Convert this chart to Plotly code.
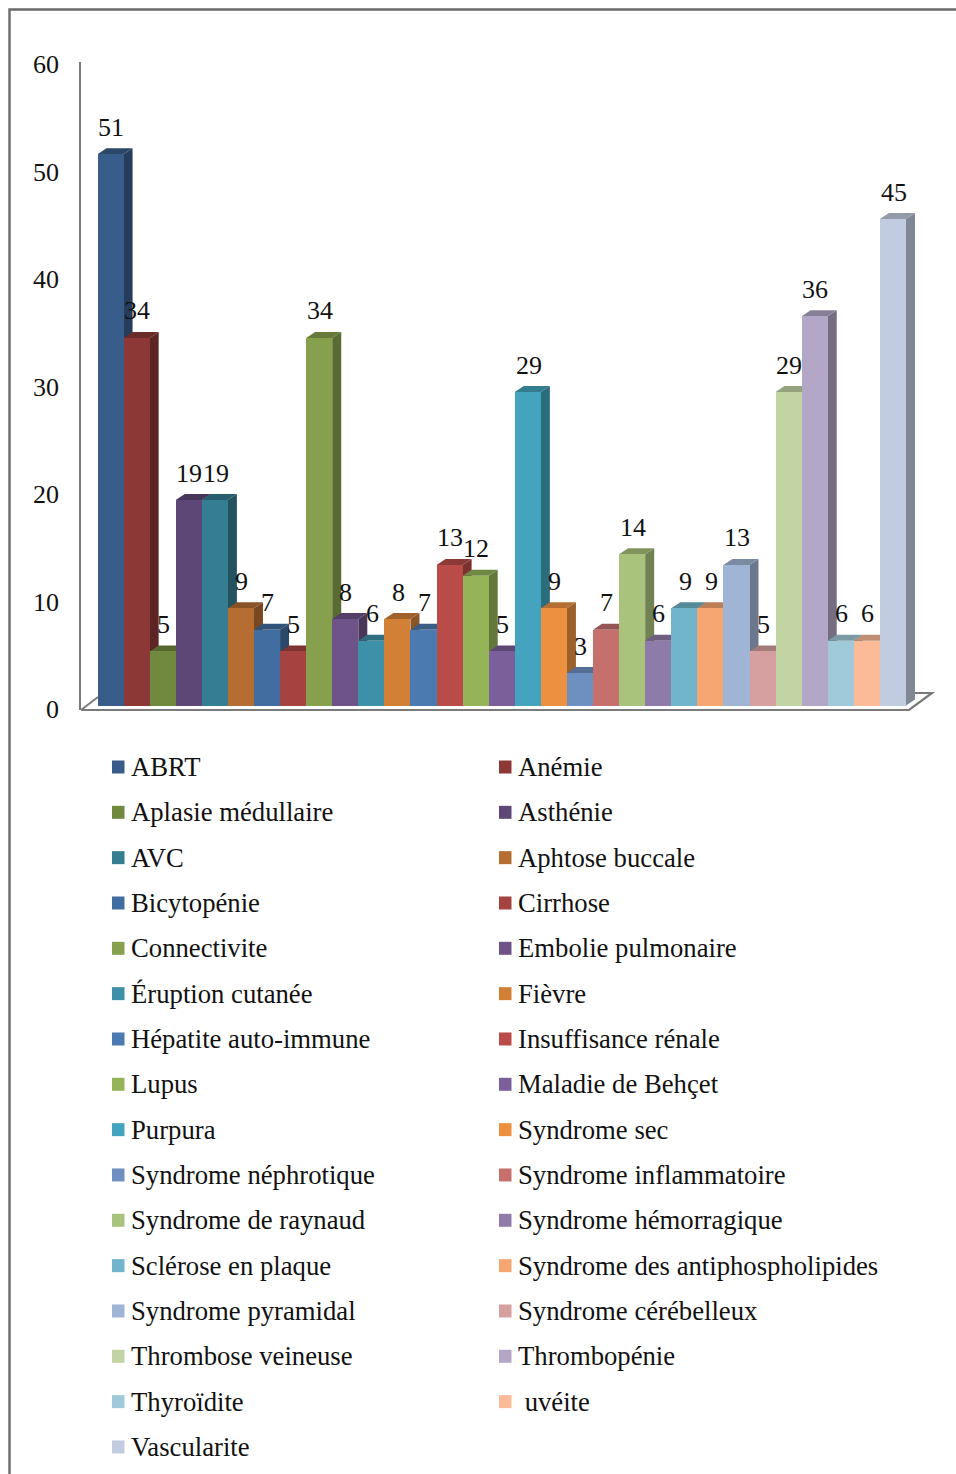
import plotly.graph_objects as go

# Diagnoses and patient counts, in drawing order
categories = [
    "ABRT", "Anémie", "Aplasie médullaire", "Asthénie", "AVC", "Aphtose buccale",
    "Bicytopénie", "Cirrhose", "Connectivite", "Embolie pulmonaire", "Éruption cutanée",
    "Fièvre", "Hépatite auto-immune", "Insuffisance rénale", "Lupus", "Maladie de Behçet",
    "Purpura", "Syndrome sec", "Syndrome néphrotique", "Syndrome inflammatoire",
    "Syndrome de raynaud", "Syndrome hémorragique", "Sclérose en plaque",
    "Syndrome des antiphospholipides", "Syndrome pyramidal", "Syndrome cérébelleux",
    "Thrombose veineuse", "Thrombopénie", "Thyroïdite", "\u00a0uvéite", "Vascularite",
]
values = [51, 34, 5, 19, 19, 9, 7, 5, 34, 8, 6, 8, 7, 13, 12, 5, 29, 9, 3, 7, 14, 6, 9, 9,
          13, 5, 29, 36, 6, 6, 45]
colors = [
    "#385D8A", "#8C3836", "#71893F", "#5C4776", "#357D91", "#B66D31", "#426DA1", "#A44340",
    "#87A04D", "#6E5389", "#3E90A9", "#D38037", "#4A7AB0", "#B94B49", "#94B457", "#7A5F9A",
    "#44A3BE", "#ED9140", "#6E90C0", "#C6706E", "#AAC37C", "#8E7BAA", "#70B5CB", "#F6A670",
    "#A0B5D5", "#D6A0A0", "#C3D4A4", "#B2A7C6", "#A0CAD9", "#FBBB98", "#C1CCE1",
]
tick_values = [0, 10, 20, 30, 40, 50, 60]

W, H = 956, 1474
FONT = "Liberation Serif"
GREY = "#7a7a7a"

# Pixel geometry of the plot: bars run from BAR_LEFT, each BAR_W wide
BAR_LEFT, BAR_W = 97.5, 26.08
BASE_PX, PX_PER_UNIT = 705.5, 10.81
TICK_ZERO_PX, TICK_PX_PER_UNIT = 709.0, 10.75
DEPTH_X = 9 / BAR_W
DEPTH_Y = 6 / PX_PER_UNIT
PLOT_L, PLOT_R, PLOT_T, PLOT_B = 81.0, 934.0, 62.0, 710.0


def px_x(px):
    return px / W


def px_y(px):
    return 1 - px / H


def shade(hex_color, k):
    r, g, b = (int(hex_color[i:i + 2], 16) for i in (1, 3, 5))
    return f"rgb({round(r * k)},{round(g * k)},{round(b * k)})"


fig = go.Figure()

fig.add_trace(go.Bar(
    x=list(range(len(values))), y=values, width=1,
    marker=dict(color=colors, line=dict(width=0)),
    hovertext=categories, hoverinfo="text+y", showlegend=False,
))
# Carries the tick scale, which sits slightly forward of the bar plane
fig.add_trace(go.Scatter(x=[0], y=[0], yaxis="y2", mode="none", showlegend=False, hoverinfo="skip"))

shapes = []

# Chart frame: only the top and left edges are visible
shapes.append(dict(type="path", xref="paper", yref="paper", layer="below",
                   path=f"M {px_x(9.5)} 0 L {px_x(9.5)} {px_y(9.5)} L 1 {px_y(9.5)}",
                   line=dict(color="#6a6a6a", width=2.4)))

# Chart floor
floor = [(81, 710), (909, 710), (932, 693), (915, 693)]
shapes.append(dict(type="path", xref="paper", yref="paper", layer="below",
                   path="M " + " L ".join(f"{px_x(a)} {px_y(b)}" for a, b in floor),
                   line=dict(color=GREY, width=2.2)))
shapes.append(dict(type="line", xref="paper", yref="paper", layer="below",
                   x0=px_x(81), y0=px_y(710), x1=px_x(98), y1=px_y(697),
                   line=dict(color=GREY, width=2)))

# Side and top faces of each block, painted left to right behind the front faces
for i, (v, c) in enumerate(zip(values, colors)):
    l, r = i - 0.5, i + 0.5
    side = f"M {r} 0 L {r + DEPTH_X} {DEPTH_Y} L {r + DEPTH_X} {v + DEPTH_Y} L {r} {v} Z"
    top = f"M {l} {v} L {l + DEPTH_X} {v + DEPTH_Y} L {r + DEPTH_X} {v + DEPTH_Y} L {r} {v} Z"
    shapes.append(dict(type="path", xref="x", yref="y", layer="below", path=side,
                       fillcolor=shade(c, 0.66), line=dict(width=0)))
    shapes.append(dict(type="path", xref="x", yref="y", layer="below", path=top,
                       fillcolor=shade(c, 0.76), line=dict(width=0)))

annotations = []

# Value labels above the blocks
for i, v in enumerate(values):
    annotations.append(dict(x=i, y=v, xref="x", yref="y", text=str(v), showarrow=False,
                            xanchor="center", yanchor="middle", xshift=0.7, yshift=27,
                            font=dict(family=FONT, size=26, color="#111111")))

# Two-column legend; the last entry sits alone on its own row
LEG_TOP, LEG_STEP = 767.0, 45.33
LEG_SWATCH_X = (112.0, 499.0)
LEG_TEXT_X = (131.0, 518.0)
for i, (name, c) in enumerate(zip(categories, colors)):
    col, row = i % 2, i // 2
    cy = LEG_TOP + row * LEG_STEP
    sx = LEG_SWATCH_X[col]
    shapes.append(dict(type="rect", xref="paper", yref="paper",
                       x0=px_x(sx), x1=px_x(sx + 12.5), y0=px_y(cy + 6.5), y1=px_y(cy - 6.5),
                       fillcolor=c, line=dict(width=0)))
    annotations.append(dict(x=px_x(LEG_TEXT_X[col]), y=px_y(cy), xref="paper", yref="paper",
                            text=name, showarrow=False, xanchor="left", yanchor="middle",
                            xshift=-2, font=dict(family=FONT, size=26.7, color="#111111")))

fig.update_layout(
    width=W, height=H,
    margin=dict(l=0, r=0, t=0, b=0, autoexpand=False),
    paper_bgcolor="white", plot_bgcolor="rgba(0,0,0,0)",
    bargap=0, showlegend=False,
    font=dict(family=FONT, size=26, color="#111111"),
    xaxis=dict(
        domain=[px_x(PLOT_L), px_x(PLOT_R)],
        range=[(PLOT_L - BAR_LEFT) / BAR_W - 0.5, (PLOT_R - BAR_LEFT) / BAR_W - 0.5],
        visible=False,
    ),
    yaxis=dict(
        domain=[px_y(PLOT_B), px_y(PLOT_T)],
        range=[(BASE_PX - PLOT_B) / PX_PER_UNIT, (BASE_PX - PLOT_T) / PX_PER_UNIT],
        showticklabels=False, ticks="", showgrid=False, zeroline=False,
        showline=True, linecolor=GREY, linewidth=2,
    ),
    yaxis2=dict(
        overlaying="y", side="left",
        range=[(TICK_ZERO_PX - PLOT_B) / TICK_PX_PER_UNIT, (TICK_ZERO_PX - PLOT_T) / TICK_PX_PER_UNIT],
        tickmode="array", tickvals=tick_values, ticktext=[str(t) for t in tick_values],
        showgrid=False, zeroline=False, showline=False, ticks="",
        ticklabelstandoff=21,
        tickfont=dict(family=FONT, size=26, color="#111111"),
    ),
    shapes=shapes,
    annotations=annotations,
)

fig.write_html("out.html", config=dict(displayModeBar=False))
